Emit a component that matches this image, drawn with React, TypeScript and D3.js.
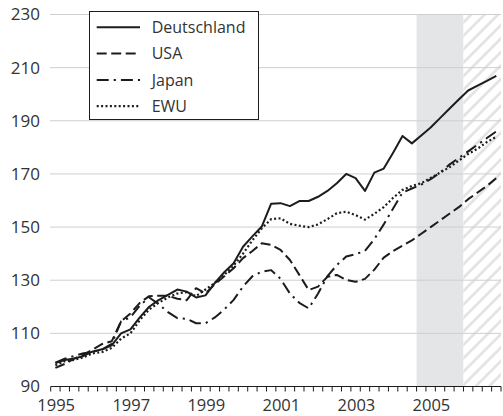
import * as d3 from 'd3';

// quarterly index values, 1995 Q1 to 2006 Q4 (plotted at the quarter's midpoint)
const START_YEAR = 1995;
const END_YEAR = 2007;

const DEUTSCHLAND = [
    98.8, 100, 100.5, 101.5, 103.2, 104, 105.5, 110, 111.5, 116,
    120, 122.5, 124.5, 126.5, 125.7, 123.5, 124.3, 129, 133, 136.4,
    142.6, 146.5, 150.2, 158.8, 159, 157.9, 159.8, 159.8, 161.4, 163.6,
    166.5, 170, 168.4, 163.6, 170.5, 172, 178, 184.3, 181.5, 184.5,
    187.5, 191, 194.5, 198, 201.4, 203.2, 205, 206.9,
];
const USA = [
    97, 98.5, 100.5, 102, 104, 106, 107, 114.5, 117.5, 121.5,
    124, 124.2, 124.2, 123, 122.5, 127, 125, 128.5, 131.5, 134.5,
    138.3, 141, 143.9, 143.3, 141.4, 137.6, 132, 126.3, 127.6, 131.3,
    132, 130.1, 129.4, 130.5, 134, 138.5, 141, 143, 145, 147.5,
    150, 152.5, 155, 157.5, 160.5, 163, 165.5, 168.4,
];
const JAPAN = [
    99, 100.5, 101.5, 102.5, 103, 104, 106, 114.5, 116, 120.5,
    123.5, 121, 118, 115.7, 115.5, 113.8, 113.8, 116, 119, 122.6,
    127.6, 131.5, 133.2, 133.8, 130.5, 125, 121.5, 119.4, 125, 131.5,
    135.7, 138.9, 139.8, 141, 145.5, 151, 157, 163, 164.5, 166,
    168, 170.5, 173.5, 176, 178.5, 181, 183.5, 186,
];
const EWU = [
    98, 99.5, 100, 101, 102.5, 103, 104.5, 108, 110, 115,
    119, 121.5, 123.5, 125, 125.5, 124, 126.5, 129, 132, 135.5,
    140, 145, 149.5, 153, 153.3, 151.2, 150.5, 150, 151, 153,
    155.2, 155.8, 154.5, 152.8, 155, 157.5, 161, 164, 165.5, 166.5,
    168.5, 170.5, 172.5, 175, 177.5, 179.5, 182, 184,
];

const SERIES_NAMES = ['Deutschland', 'USA', 'Japan', 'EWU'];
const SERIES_VALUES = [DEUTSCHLAND, USA, JAPAN, EWU];
const SERIES_DASH = [null, '10,4.5', '12,5,2.2,5', '2,2.4'];

const Y_TICKS = [90, 110, 130, 150, 170, 190, 210, 230];
const YEAR_LABELS = [1995, 1997, 1999, 2001, 2003, 2005];

// forecast shading: grey band, then hatched band
const FORECAST_GREY = [2004.75, 2006];
const FORECAST_HATCH = [2006, 2007];

const W = 503;
const H = 416;
const FONT = '"Open Sans", "DejaVu Sans", sans-serif';
const TEXT = '#333';
const INK = '#1c1c1c';

export default function App() {
    const x = d3.scaleLinear().domain([START_YEAR, END_YEAR]).range([50.7, 501]);
    const y = d3.scaleLinear().domain([90, 230]).range([386.5, 14.5]);

    const quarterTime = (i: number) => START_YEAR + (i + 0.5) / 4;
    const line = d3
        .line<number>()
        .x((_, i) => x(quarterTime(i)))
        .y((d) => y(d));

    const quarterTicks = d3.range(0, (END_YEAR - START_YEAR) * 4 + 1).map((k) => START_YEAR + k / 4);

    const legendX = 89.5;
    const legendY = 11.5;
    const rowH = 26.3;

    return (
        <svg
            width={W}
            height={H}
            style={{ position: 'absolute', left: 0, top: 0, background: '#fff' }}
            fontFamily={FONT}
        >
            <defs>
                <pattern
                    id="hatch"
                    patternUnits="userSpaceOnUse"
                    width={9.5}
                    height={9.5}
                    patternTransform="rotate(45)"
                >
                    <rect width={9.5} height={9.5} fill="#fff" />
                    <line x1={1.5} y1={0} x2={1.5} y2={9.5} stroke="#e1e2e4" strokeWidth={2.6} />
                </pattern>
            </defs>

            <rect
                x={x(FORECAST_GREY[0])}
                y={y(230)}
                width={x(FORECAST_GREY[1]) - x(FORECAST_GREY[0])}
                height={y(90) - y(230)}
                fill="#e4e5e7"
            />
            <rect
                x={x(FORECAST_HATCH[0])}
                y={y(230)}
                width={x(FORECAST_HATCH[1]) - x(FORECAST_HATCH[0])}
                height={y(90) - y(230)}
                fill="url(#hatch)"
            />

            {Y_TICKS.filter((t) => t > 90).map((t) => (
                <line key={t} x1={50} x2={501} y1={y(t)} y2={y(t)} stroke="#cfcfcf" strokeWidth={1} />
            ))}
            {Y_TICKS.map((t) => (
                <text
                    key={t}
                    x={40}
                    y={y(t)}
                    dy="0.35em"
                    textAnchor="end"
                    fontSize={17}
                    fill={TEXT}
                >
                    {t}
                </text>
            ))}

            <line x1={x(START_YEAR)} x2={x(END_YEAR)} y1={y(90)} y2={y(90)} stroke={INK} strokeWidth={1} />
            {quarterTicks.map((t) => (
                <line key={t} x1={x(t)} x2={x(t)} y1={y(90)} y2={y(90) + 5} stroke={INK} strokeWidth={1} />
            ))}
            {YEAR_LABELS.map((yr) => (
                <text
                    key={yr}
                    x={x(yr) + 5.5}
                    y={411}
                    textAnchor="middle"
                    fontSize={16.5}
                    fill={TEXT}
                >
                    {yr}
                </text>
            ))}

            {SERIES_VALUES.map((vals, k) => (
                <path
                    key={SERIES_NAMES[k]}
                    d={line(vals) ?? ''}
                    fill="none"
                    stroke={INK}
                    strokeWidth={k === 3 ? 2.2 : 2}
                    strokeDasharray={SERIES_DASH[k] ?? undefined}
                    strokeLinejoin="round"
                />
            ))}

            <rect x={legendX} y={legendY} width={169} height={108} fill="#fff" stroke={INK} strokeWidth={1} />
            {SERIES_NAMES.map((name, k) => (
                <g key={name} transform={`translate(0,${legendY + 15.8 + k * rowH})`}>
                    <line
                        x1={96.7}
                        x2={140}
                        y1={0}
                        y2={0}
                        stroke={INK}
                        strokeWidth={k === 3 ? 2.2 : 2}
                        strokeDasharray={SERIES_DASH[k] ?? undefined}
                    />
                    <text x={151.7} y={0} dy="0.35em" fontSize={16} fill={TEXT}>
                        {name}
                    </text>
                </g>
            ))}
        </svg>
    );
}
